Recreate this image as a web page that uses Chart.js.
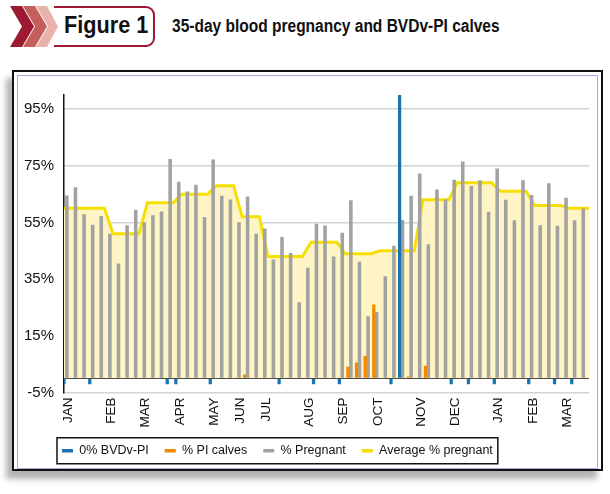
<!DOCTYPE html>
<html>
<head>
<meta charset="utf-8">
<script src="https://cdn.jsdelivr.net/npm/chart.js@4.4.1/dist/chart.umd.min.js"></script>
<style>
  html, body { margin: 0; padding: 0; background: #fff; }
  body { width: 610px; height: 494px; position: relative; overflow: hidden; }
  #chev { position: absolute; left: 0; top: 0; }
  #figbox { position: absolute; left: 54px; top: 6px; width: 99px; height: 37px;
    border: 2px solid #9e1a32; border-left: none; border-radius: 0 9px 9px 0; }
  #figlabel { position: absolute; left: 64px; top: 11px; color: #111; white-space: nowrap;
    transform-origin: 0 0; font: bold 24px 'Liberation Sans', Arial, sans-serif; }
  #title { position: absolute; left: 172px; top: 16px; color: #111; white-space: nowrap;
    transform-origin: 0 0; font: bold 17.5px 'Liberation Sans', Arial, sans-serif; }
  #panel { position: absolute; left: 12px; top: 70px; width: 591px; height: 401px;
    box-sizing: border-box; border: 2px solid #111; background: #fff;
    box-shadow: -6px 8px 6px rgba(0, 0, 0, 0.3); }
  #inner { position: absolute; left: 17px; top: 75px; width: 581px; height: 394px;
    box-sizing: border-box; border: 1px solid #b9a0e6; }
  #chart { position: absolute; left: 18px; top: 76px; }
</style>
</head>
<body>
<svg id="chev" width="64" height="52">
  <polygon points="10,6 22,6 34,26.5 22,47 10,47 22,26.5" fill="#9e1a32"/>
  <polygon points="23,6 35,6 47,26.5 35,47 23,47 35,26.5" fill="#c4605b"/>
  <polygon points="36,6 47,6 58,26.5 47,47 36,47 48,26.5" fill="#e9b3ab"/>
</svg>
<div id="figbox"></div>
<div id="figlabel">Figure 1</div>
<div id="title">35-day blood pregnancy and BVDv-PI calves</div>
<div id="panel"></div>
<div id="inner"></div>
<canvas id="chart" width="579" height="391"></canvas>
<script>
// one category per test date, month name on the first test of each month
const months = ['JAN','','','','','FEB','','','','MAR','','','','APR','','','','MAY','','','JUN','','','JUL','','','','','AUG','','','','SEP','','','','OCT','','','','','NOV','','','','DEC','','','','','JAN','','','','FEB','','','','MAR','',''];

const pregnant = [64.4, 67.3, 57.8, 54.1, 57.2, 50.9, 40.4, 53.9, 59.4, 55.0,
  57.4, 58.8, 77.3, 69.3, 65.8, 68.2, 56.8, 77.1, 64.3, 63.0,
  55.0, 64.1, 50.9, 52.8, 41.8, 49.8, 44.1, 26.7, 38.9, 54.4,
  53.8, 42.9, 51.3, 62.7, 41.0, 21.8, 23.3, 35.9, 46.7, 55.8,
  64.3, 72.2, 47.2, 66.5, 63.0, 70.0, 76.4, 67.8, 69.8, 58.7,
  73.9, 62.9, 55.7, 69.8, 64.6, 53.9, 68.7, 53.7, 63.6, 55.7, 59.8];

const avgPregnant = [60, 60, 60, 60, 60, 51, 51, 51, 51, 62, 62, 62, 62,
  65, 65, 65, 65, 68, 68, 68, 57, 57, 57, 43, 43, 43, 43, 43,
  48, 48, 48, 48, 44, 44, 44, 44, 45, 45, 45, 45, 45,
  63, 63, 63, 63, 69, 69, 69, 69, 69, 66, 66, 66, 66,
  61, 61, 61, 61, 60, 60, 60];

const piIdx = [21, 33, 34, 35, 36, 40, 42];
const piCalves = [1.2, 4.0, 5.5, 7.8, 25.9, 0.5, 4.3];

const bvdIdx = [0, 3, 12, 13, 17, 25, 29, 32, 38, 39, 45, 47, 50, 54, 57, 59];
const bvdPI = [-2, -2, -2, -2, -2, -2, -2, -2, -2, 100, -2, -2, -2, -2, -2, -2];

const yTicks = [-5, 0, 15, 35, 55, 75, 95];

const BLUE = '#1a74b2', ORANGE = '#f28a00', GRAY = '#a2a2a2', YELLOW = '#f5e000';
const FONT = "'Liberation Sans', Arial, sans-serif";

// squeeze the header texts to the condensed widths of the original
function squeeze(id, w) {
  const el = document.getElementById(id);
  el.style.transform = 'scaleX(' + (w / el.offsetWidth) + ')';
}
squeeze('figlabel', 84);
squeeze('title', 328);

function spread(idx, vals) {
  const out = months.map(() => null);
  idx.forEach((k, j) => { out[k] = vals[j]; });
  return out;
}

// the average line runs edge to edge, so it sits on its own hidden linear axis
const lineLo = -0.7, lineHi = 60.3;
const avgPoints = [{ x: lineLo, y: avgPregnant[0] }]
  .concat(avgPregnant.map((v, i) => ({ x: i, y: v })))
  .concat([{ x: lineHi, y: avgPregnant[avgPregnant.length - 1] }]);

const legendFrame = {
  id: 'legendFrame',
  afterLayout(chart) {
    const lg = chart.legend;
    lg.left = 44 - lg.options.labels.padding;
  },
  afterDraw(chart) {
    const lg = chart.legend, ctx = chart.ctx;
    const p = lg.options.labels.padding;
    const fs = lg.options.labels.font.size;
    const x0 = lg.left + p - 5, x1 = lg.left + lg.lineWidths[0] + 5;
    const cy = lg.top + p + fs / 2;
    ctx.save();
    ctx.strokeStyle = '#111';
    ctx.lineWidth = 1.5;
    ctx.strokeRect(x0, cy - 13, x1 - x0, 26);
    ctx.restore();
  }
};

// fixed bar slot: blue/orange share the left slot, gray takes the right one
const barSize = { barThickness: 2.9 };

new Chart(document.getElementById('chart'), {
  type: 'bar',
  data: {
    labels: months,
    datasets: [
      { label: '0% BVDv-PI', data: spread(bvdIdx, bvdPI), backgroundColor: BLUE,
        stack: 'a', maxBarThickness: 2.6, order: 0, ...barSize },
      { label: '% PI calves', data: spread(piIdx, piCalves), backgroundColor: ORANGE,
        stack: 'a', maxBarThickness: 2.6, order: 0, ...barSize },
      { label: '% Pregnant', data: pregnant, backgroundColor: GRAY, stack: 'b', order: 0, ...barSize },
      { type: 'line', label: 'Average % pregnant', data: avgPoints, xAxisID: 'x2',
        borderColor: YELLOW, borderWidth: 3, backgroundColor: '#fef4c4', fill: 'origin',
        pointRadius: 0, tension: 0, order: 5 }
    ]
  },
  options: {
    responsive: false,
    devicePixelRatio: 1,
    animation: false,
    layout: { padding: { left: 0, right: 8, top: 11, bottom: 0 } },
    scales: {
      x: {
        afterFit: s => { s.height = 36; s.paddingLeft = 0; s.paddingRight = 0; },
        grid: { display: false, drawTicks: false },
        border: { display: false },
        ticks: { autoSkip: false, maxRotation: 90, minRotation: 90, padding: 5,
          color: '#111', font: { family: FONT, size: 13.5 } }
      },
      x2: { type: 'linear', display: false, min: lineLo, max: lineHi, offset: false },
      y: {
        min: -5, max: 100, stacked: false,
        afterBuildTicks: s => { s.ticks = yTicks.map(v => ({ value: v })); },
        afterFit: s => { s.width = 46; },
        ticks: { padding: 10, color: '#111', font: { family: FONT, size: 15 },
          callback: v => v === 0 ? '' : v + '%' },
        grid: { drawTicks: false,
          color: c => (c.tick && c.tick.value === 0) ? '#111' : '#d4d4d4',
          lineWidth: c => (c.tick && c.tick.value === 0) ? 2 : 1.5 },
        border: { color: '#111', width: 1.5 }
      }
    },
    plugins: {
      tooltip: { enabled: false },
      legend: {
        position: 'bottom',
        align: 'start',
        labels: {
          usePointStyle: true, pointStyleWidth: 11, padding: 16,
          color: '#111', font: { family: FONT, size: 12.5 },
          generateLabels: chart => chart.data.datasets.map((ds, i) => ({
            text: ds.label, datasetIndex: i, pointStyle: 'line', lineWidth: 3.5,
            strokeStyle: ds.type === 'line' ? YELLOW : ds.backgroundColor,
            fillStyle: ds.type === 'line' ? YELLOW : ds.backgroundColor,
            fontColor: '#111', hidden: false
          }))
        }
      }
    }
  },
  plugins: [legendFrame]
});
</script>
</body>
</html>
